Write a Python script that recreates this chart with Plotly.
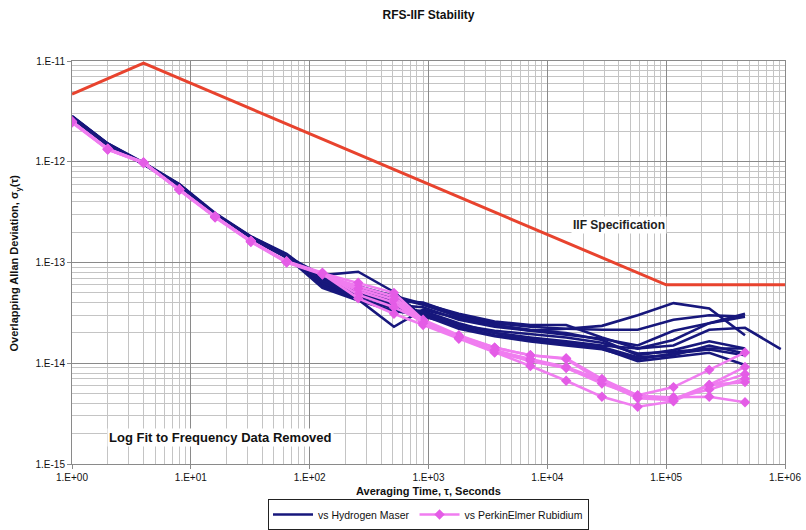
import plotly.graph_objects as go

# ---------------- data ----------------
TAU_SHORT = [1, 2, 4, 8, 16, 32, 64, 128, 256, 512]
TAU_LONG = [900, 1800, 3600, 7200, 14400, 28800, 57600, 115200, 230400, 460800, 921600]

SPEC_TAU = [1, 4, 1e5, 1e6]
SPEC_ADEV = [4.7e-12, 9.5e-12, 6.0e-14, 6.0e-14]

# Hydrogen maser comparisons
H1 = [2.75e-12, 1.5e-12, 9.5e-13, 5.8e-13, 3.0e-13, 1.75e-13, 1.15e-13, 7.5e-14, 8.1e-14, 5.1e-14,
      2.9e-14, 2.4e-14, 2.1e-14, 1.95e-14, 1.8e-14, 1.6e-14, 1.25e-14, 1.3e-14, 1.4e-14, 1.4e-14]
H2 = [2.8e-12, 1.48e-12, 9.7e-13, 5.9e-13, 3.05e-13, 1.8e-13, 1.2e-13, 6.2e-14, 4.3e-14, 2.3e-14,
      3.4e-14, 2.8e-14, 2.4e-14, 2.1e-14, 2.2e-14, 2.35e-14, 3.0e-14, 3.95e-14, 3.5e-14, 1.9e-14]
H3 = [2.85e-12, 1.52e-12, 9.8e-13, 6.0e-13, 3.1e-13, 1.82e-13, 1.22e-13, 6.5e-14, 5.2e-14, 4.2e-14,
      4.0e-14, 3.0e-14, 2.5e-14, 2.3e-14, 2.2e-14, 2.15e-14, 2.15e-14, 2.7e-14, 3.0e-14, 2.9e-14]
H4 = [2.7e-12, 1.45e-12, 9.4e-13, 5.7e-13, 2.95e-13, 1.72e-13, 1.12e-13, 6.0e-14, 4.6e-14, 3.8e-14,
      3.6e-14, 2.7e-14, 2.3e-14, 2.1e-14, 1.9e-14, 1.75e-14, 1.5e-14, 2.1e-14, 2.5e-14, 3.1e-14]
H5 = [2.8e-12, 1.5e-12, 9.6e-13, 5.9e-13, 3.0e-13, 1.78e-13, 1.17e-13, 5.8e-14, 4.4e-14, 3.5e-14,
      3.3e-14, 2.5e-14, 2.0e-14, 1.8e-14, 1.65e-14, 1.5e-14, 1.4e-14, 1.5e-14, 2.15e-14, 2.25e-14, 1.38e-14]
H6 = [2.78e-12, 1.47e-12, 9.5e-13, 5.8e-13, 2.98e-13, 1.76e-13, 1.16e-13, 6.8e-14, 5.5e-14, 4.5e-14,
      3.8e-14, 2.9e-14, 2.4e-14, 2.15e-14, 2.0e-14, 1.7e-14, 1.2e-14, 1.35e-14, 1.65e-14, 1.4e-14]
H7 = [2.82e-12, 1.51e-12, 9.7e-13, 5.95e-13, 3.02e-13, 1.79e-13, 1.19e-13, 6.3e-14, 4.8e-14, 4.0e-14,
      3.1e-14, 2.3e-14, 1.9e-14, 1.7e-14, 1.55e-14, 1.4e-14, 1.05e-14, 1.15e-14, 1.27e-14, 9.6e-15]
H8 = [2.76e-12, 1.49e-12, 9.6e-13, 5.85e-13, 2.97e-13, 1.77e-13, 1.14e-13, 5.6e-14, 4.2e-14, 3.3e-14,
      3.0e-14, 2.2e-14, 1.85e-14, 1.65e-14, 1.5e-14, 1.38e-14, 1.1e-14, 1.25e-14, 1.37e-14, 1.2e-14]
H9 = [2.8e-12, 1.5e-12, 9.6e-13, 5.9e-13, 3.0e-13, 1.8e-13, 1.18e-13, 7.0e-14, 5.8e-14, 4.7e-14,
      3.9e-14, 3.1e-14, 2.6e-14, 2.4e-14, 2.4e-14, 1.8e-14, 1.4e-14, 1.7e-14, 2.5e-14, 2.9e-14]
H10 = [2.74e-12, 1.46e-12, 9.5e-13, 5.75e-13, 2.96e-13, 1.74e-13, 1.13e-13, 6.6e-14, 5.0e-14, 3.6e-14,
       3.2e-14, 2.4e-14, 2.0e-14, 1.75e-14, 1.6e-14, 1.45e-14, 1.15e-14, 1.2e-14, 1.5e-14, 1.25e-14]

# PerkinElmer rubidium comparisons
P1 = [2.5e-12, 1.33e-12, 9.8e-13, 5.3e-13, 2.85e-13, 1.63e-13, 1.02e-13, 7.8e-14, 6.3e-14, 5.0e-14,
      2.7e-14, 1.9e-14, 1.43e-14, 1.2e-14, 1.12e-14, 7.0e-15, 4.8e-15, 5.8e-15, 8.6e-15, 1.28e-14]
P2 = [2.45e-12, 1.32e-12, 9.7e-13, 5.25e-13, 2.8e-13, 1.6e-13, 1.0e-13, 7.6e-14, 5.8e-14, 4.6e-14,
      2.6e-14, 1.85e-14, 1.43e-14, 1.2e-14, 1.1e-14, 6.6e-15, 4.6e-15, 4.4e-15, 6.1e-15, 9.2e-15]
P3 = [2.5e-12, 1.34e-12, 9.8e-13, 5.3e-13, 2.85e-13, 1.62e-13, 1.02e-13, 7.8e-14, 5.2e-14, 4.0e-14,
      2.5e-14, 1.8e-14, 1.3e-14, 1.07e-14, 9.0e-15, 6.5e-15, 4.5e-15, 4.3e-15, 6.0e-15, 7.8e-15]
P4 = [2.52e-12, 1.35e-12, 9.9e-13, 5.35e-13, 2.88e-13, 1.64e-13, 1.03e-13, 7.9e-14, 4.8e-14, 3.6e-14,
      2.6e-14, 1.8e-14, 1.3e-14, 1.05e-14, 9.0e-15, 6.3e-15, 4.7e-15, 4.6e-15, 4.65e-15, 4.1e-15]
P5 = [2.48e-12, 1.33e-12, 9.7e-13, 5.3e-13, 2.84e-13, 1.63e-13, 1.01e-13, 7.7e-14, 4.4e-14, 3.1e-14,
      2.4e-14, 1.75e-14, 1.28e-14, 9.4e-15, 6.7e-15, 4.65e-15, 3.7e-15, 4.2e-15, 6.1e-15, 6.5e-15]
P6 = [2.5e-12, 1.33e-12, 9.8e-13, 5.3e-13, 2.86e-13, 1.63e-13, 1.02e-13, 7.8e-14, 5.5e-14, 4.3e-14,
      2.5e-14, 1.8e-14, 1.35e-14, 1.1e-14, 9.2e-15, 6.8e-15, 4.8e-15, 4.5e-15, 5.5e-15, 7.0e-15]

MASER = [H1, H2, H3, H4, H5, H6, H7, H8, H9, H10]
RUBIDIUM = [P1, P2, P3, P4, P5, P6]

X_TICKS = [1, 10, 100, 1000, 1e4, 1e5, 1e6]
X_LABELS = ["1.E+00", "1.E+01", "1.E+02", "1.E+03", "1.E+04", "1.E+05", "1.E+06"]
Y_TICKS = [1e-15, 1e-14, 1e-13, 1e-12, 1e-11]
Y_LABELS = ["1.E-15", "1.E-14", "1.E-13", "1.E-12", "1.E-11"]

TAU_ALL = TAU_SHORT + TAU_LONG

NAVY = "#17177c"
PINK_LINE = "#f07df0"
PINK_MARK = "#e45ce6"
RED = "#e8432e"
FONT = "Liberation Sans, Arial, sans-serif"

fig = go.Figure()

fig.add_trace(go.Scatter(x=SPEC_TAU, y=SPEC_ADEV, mode="lines",
                         line=dict(color=RED, width=3), showlegend=False, hoverinfo="skip"))

for i, s in enumerate(MASER):
    fig.add_trace(go.Scatter(x=TAU_ALL[:len(s)], y=s, mode="lines",
                             line=dict(color=NAVY, width=2.6),
                             name="vs Hydrogen Maser", legendgroup="m",
                             showlegend=(i == 0)))

for i, s in enumerate(RUBIDIUM):
    fig.add_trace(go.Scatter(x=TAU_ALL[:len(s)], y=s, mode="lines+markers",
                             line=dict(color=PINK_LINE, width=2.6),
                             marker=dict(symbol="diamond", size=8, color=PINK_MARK),
                             name="vs PerkinElmer Rubidium", legendgroup="r",
                             showlegend=(i == 0)))

x_minor = [k * 10 ** d for d in range(0, 6) for k in range(2, 10)]
y_minor = [k * 10.0 ** d for d in range(-15, -11) for k in range(2, 10)]

fig.update_xaxes(type="log", range=[0, 6], tickvals=X_TICKS, ticktext=X_LABELS,
                 automargin=False,
                 showgrid=True, gridcolor="#8a8a8a", gridwidth=1,
                 showline=True, linecolor="#8a8a8a", mirror=True,
                 ticks="outside", ticklen=4, tickcolor="#8a8a8a",
                 tickfont=dict(size=10, color="#111", family=FONT),
                 minor=dict(tickvals=x_minor, showgrid=True, gridcolor="#c4c4c4", gridwidth=1, ticks=""),
                 zeroline=False)
fig.update_yaxes(type="log", range=[-15, -11], tickvals=Y_TICKS, ticktext=Y_LABELS,
                 automargin=False,
                 showgrid=True, gridcolor="#8a8a8a", gridwidth=1,
                 showline=True, linecolor="#8a8a8a", mirror=True,
                 ticks="outside", ticklen=4, tickcolor="#8a8a8a",
                 tickfont=dict(size=10, color="#111", family=FONT),
                 minor=dict(tickvals=y_minor, showgrid=True, gridcolor="#c4c4c4", gridwidth=1, ticks=""),
                 zeroline=False)

fig.update_layout(
    width=806, height=530,
    margin=dict(l=72, r=21, t=61, b=66, autoexpand=False),
    paper_bgcolor="white", plot_bgcolor="white",
    font=dict(family=FONT, color="#111"),
    title=dict(text="<b>RFS-IIF Stability</b>", x=0.5, xref="paper", y=1 - 15 / 530,
               yanchor="middle", xanchor="center", font=dict(size=12, family=FONT, color="#111")),
    legend=dict(orientation="h", x=0.5, xanchor="center", xref="paper",
                y=0.0, yref="container", yanchor="bottom",
                bordercolor="#222", borderwidth=1, bgcolor="white",
                font=dict(size=10.5, family=FONT, color="#111"),
                tracegroupgap=0, itemwidth=40),
    annotations=[
        dict(text="<b>Averaging Time, τ, Seconds</b>", xref="paper", yref="paper",
             x=0.5, y=-0.066, xanchor="center", yanchor="middle", showarrow=False,
             font=dict(size=11, family=FONT, color="#111")),
        dict(text="<b>Overlapping Allan Deviation, σ<sub>y</sub>(τ)</b>", xref="paper", yref="paper",
             x=-0.08, y=0.5, xanchor="center", yanchor="middle", textangle=-90, showarrow=False,
             font=dict(size=11, family=FONT, color="#111")),
        dict(text="<b>IIF Specification</b>", xref="x", yref="y", x=4.6, y=-12.628,
             xanchor="center", yanchor="middle", showarrow=False, bgcolor="white",
             font=dict(size=12, family=FONT, color="#222")),
        dict(text="<b>Log Fit to Frequency Data Removed</b>", xref="x", yref="y", x=1.246, y=-14.732,
             xanchor="center", yanchor="middle", showarrow=False, bgcolor="white",
             font=dict(size=13, family=FONT, color="#111")),
    ],
)

fig.write_html("out.html")
